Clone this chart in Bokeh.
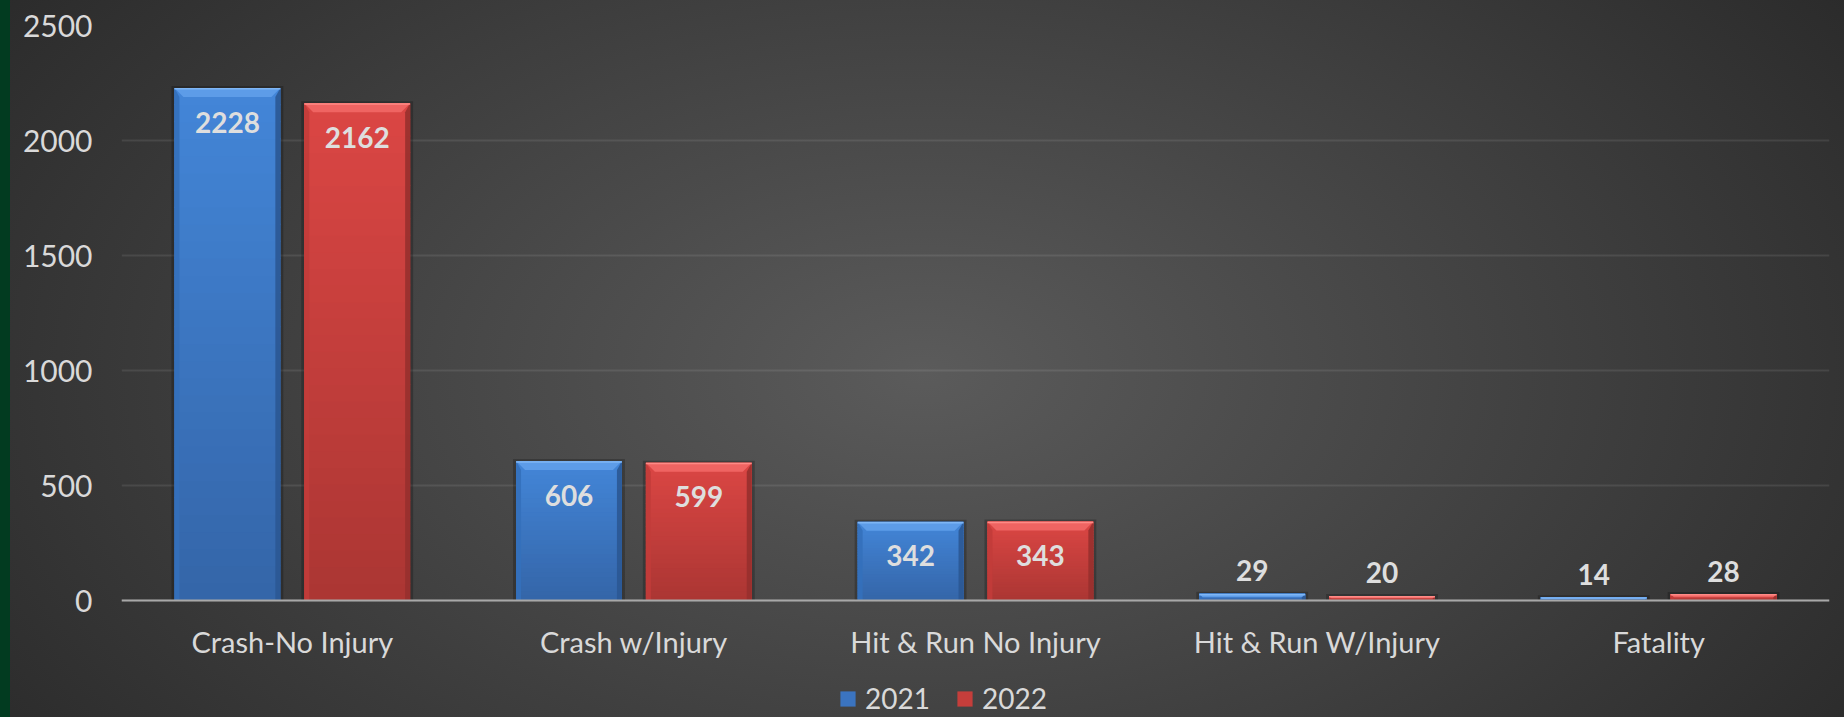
import numpy as np
from bokeh.plotting import figure
from bokeh.models import ColumnDataSource, FixedTicker, Legend, LegendItem, Range1d
from bokeh.embed import file_html
from bokeh.resources import INLINE
from bokeh.core.properties import value

# ---------------- data ----------------
categories = ["Crash-No Injury", "Crash w/Injury", "Hit & Run No Injury",
              "Hit & Run W/Injury", "Fatality"]
series_names = ["2021", "2022"]
values_2021 = [2228, 606, 342, 29, 14]
values_2022 = [2162, 599, 343, 20, 28]
y_ticks = [0, 500, 1000, 1500, 2000, 2500]

# ---------------- layout / style ----------------
W, H = 1844, 717
LEFT, RIGHT, TOP = 121, 15, 25
ZERO_PX = 600                      # pixel row of the value axis zero line
Y_MAX = 2500
PX_X = (W - LEFT - RIGHT) / len(categories)   # pixels per category unit
PX_Y = (ZERO_PX - TOP) / Y_MAX                # pixels per value unit
Y_MIN = -(H - ZERO_PX) / PX_Y
FONT = "Lato"
TEXT_COLOR = "#d9d9d9"

p = figure(width=W, height=H, x_range=Range1d(0, len(categories)),
           y_range=Range1d(Y_MIN, Y_MAX), output_backend="svg",
           toolbar_location=None, min_border_left=LEFT, min_border_right=RIGHT,
           min_border_top=TOP, min_border_bottom=0)
p.background_fill_alpha = 0
p.border_fill_alpha = 0
p.outline_line_color = None
p.styles = {
    "background": ("linear-gradient(to right, #023b20 0px, #023b20 10px, transparent 10px), "
                   "radial-gradient(ellipse 62% 95% at 50% 52%, #5b5b5b 0%, #2a2a2a 100%)"),
}

# axes
cx = np.arange(len(categories)) + 0.5
p.xaxis.fixed_location = 0
p.xaxis.ticker = FixedTicker(ticks=list(cx))
p.xaxis.major_label_overrides = {float(c): n for c, n in zip(cx, categories)}
p.xaxis.axis_line_color = "#a8a8a8"
p.xaxis.axis_line_width = 2
p.xaxis.major_tick_line_color = None
p.xaxis.minor_tick_line_color = None
p.xaxis.major_label_standoff = 17
p.xaxis.major_label_text_font = FONT
p.xaxis.major_label_text_font_size = "29px"
p.xaxis.major_label_text_color = TEXT_COLOR

p.yaxis.ticker = FixedTicker(ticks=y_ticks)
p.yaxis.axis_line_color = None
p.yaxis.major_tick_line_color = None
p.yaxis.minor_tick_line_color = None
p.yaxis.major_label_standoff = 23
p.yaxis.major_label_text_font = FONT
p.yaxis.major_label_text_font_size = "30px"
p.yaxis.major_label_text_color = TEXT_COLOR

p.xgrid.grid_line_color = None
p.ygrid.grid_line_color = "white"
p.ygrid.grid_line_alpha = 0.09
p.ygrid.grid_line_width = 2

# ---------------- bars ----------------
OFF, BW = 0.19, 0.31
styles = {
    "2021": dict(base="#3b74c0", top="#4386d8", bottom="#3465a8",
                 bevel="#5d9ce8", edge_hi="#7fb6f5", left="#3470bb", right="#2b5894"),
    "2022": dict(base="#c53e3b", top="#db4644", bottom="#ab3633",
                 bevel="#ef6462", edge_hi="#ff8a86", left="#c23c3a", right="#97302d"),
}
NSLICE = 30
legend_items = []
for name, vals, sign in [("2021", values_2021, -1), ("2022", values_2022, 1)]:
    st = styles[name]
    xs = cx + sign * OFF
    vals = np.array(vals, dtype=float)
    left = xs - BW / 2
    right = xs + BW / 2

    # soft shadow
    sh = 3 / PX_X
    p.quad(left=left - sh, right=right + sh, bottom=0, top=vals + 2 / PX_Y,
           fill_color="black", fill_alpha=0.22, line_color=None)

    base = p.quad(left=left, right=right, bottom=0, top=vals,
                  fill_color=st["base"], line_color=None)
    legend_items.append(LegendItem(label=name, renderers=[base]))

    # vertical gradient slices
    c_top = np.array([int(st["top"][i:i + 2], 16) for i in (1, 3, 5)], dtype=float)
    c_bot = np.array([int(st["bottom"][i:i + 2], 16) for i in (1, 3, 5)], dtype=float)
    sl_l, sl_r, sl_b, sl_t, sl_c = [], [], [], [], []
    for k in range(len(vals)):
        for i in range(NSLICE):
            f = (i + 0.5) / NSLICE
            col = c_bot + (c_top - c_bot) * f
            sl_l.append(left[k]); sl_r.append(right[k])
            sl_b.append(vals[k] * i / NSLICE)
            sl_t.append(min(vals[k], vals[k] * (i + 1) / NSLICE + 1.0 / PX_Y))
            sl_c.append("#%02x%02x%02x" % tuple(int(round(c)) for c in col))
    p.quad(left=sl_l, right=sl_r, bottom=sl_b, top=sl_t, fill_color=sl_c, line_color=None)

    # bevels
    tx, ty, lx, ly, rx, ry = [], [], [], [], [], []
    for k in range(len(vals)):
        hpx = vals[k] * PX_Y
        b = min(9.0, hpx / 2.0)
        bx = b / PX_X
        by = b / PX_Y
        bxs = min(5.0, b) / PX_X
        tx.append([left[k], right[k], right[k] - bx, left[k] + bx])
        ty.append([vals[k], vals[k], vals[k] - by, vals[k] - by])
        lx.append([left[k], left[k] + bxs, left[k] + bxs, left[k]])
        ly.append([vals[k], vals[k] - by, 0, 0])
        rx.append([right[k], right[k] - bxs, right[k] - bxs, right[k]])
        ry.append([vals[k], vals[k] - by, 0, 0])
    p.patches(lx, ly, fill_color=st["left"], line_color=None, fill_alpha=0.9)
    p.patches(rx, ry, fill_color=st["right"], line_color=None, fill_alpha=0.9)
    p.patches(tx, ty, fill_color=st["bevel"], line_color=None)
    p.segment(x0=left, x1=right, y0=vals - 0.8 / PX_Y, y1=vals - 0.8 / PX_Y,
              line_color=st["edge_hi"], line_width=1.5)

    # data labels
    inside = vals > 100
    src = ColumnDataSource(dict(
        x=xs, y=vals, text=[str(int(v)) for v in vals],
        yoff=[34 if i else -23 for i in inside],
    ))
    p.text(x="x", y="y", text="text", y_offset="yoff", source=src,
           text_font=value(FONT), text_font_style="bold", text_font_size="28px",
           text_color="#dedede", text_align="center", text_baseline="alphabetic")

legend = Legend(items=legend_items, orientation="horizontal",
                location=(717, 2), padding=0, margin=0, spacing=25,
                glyph_width=19, glyph_height=19, label_standoff=8,
                label_text_font=FONT, label_text_font_size="28px",
                label_text_color=TEXT_COLOR, label_height=24,
                background_fill_alpha=0, border_line_color=None)
p.add_layout(legend, "center")

open("out.html", "w").write(file_html(p, INLINE))
